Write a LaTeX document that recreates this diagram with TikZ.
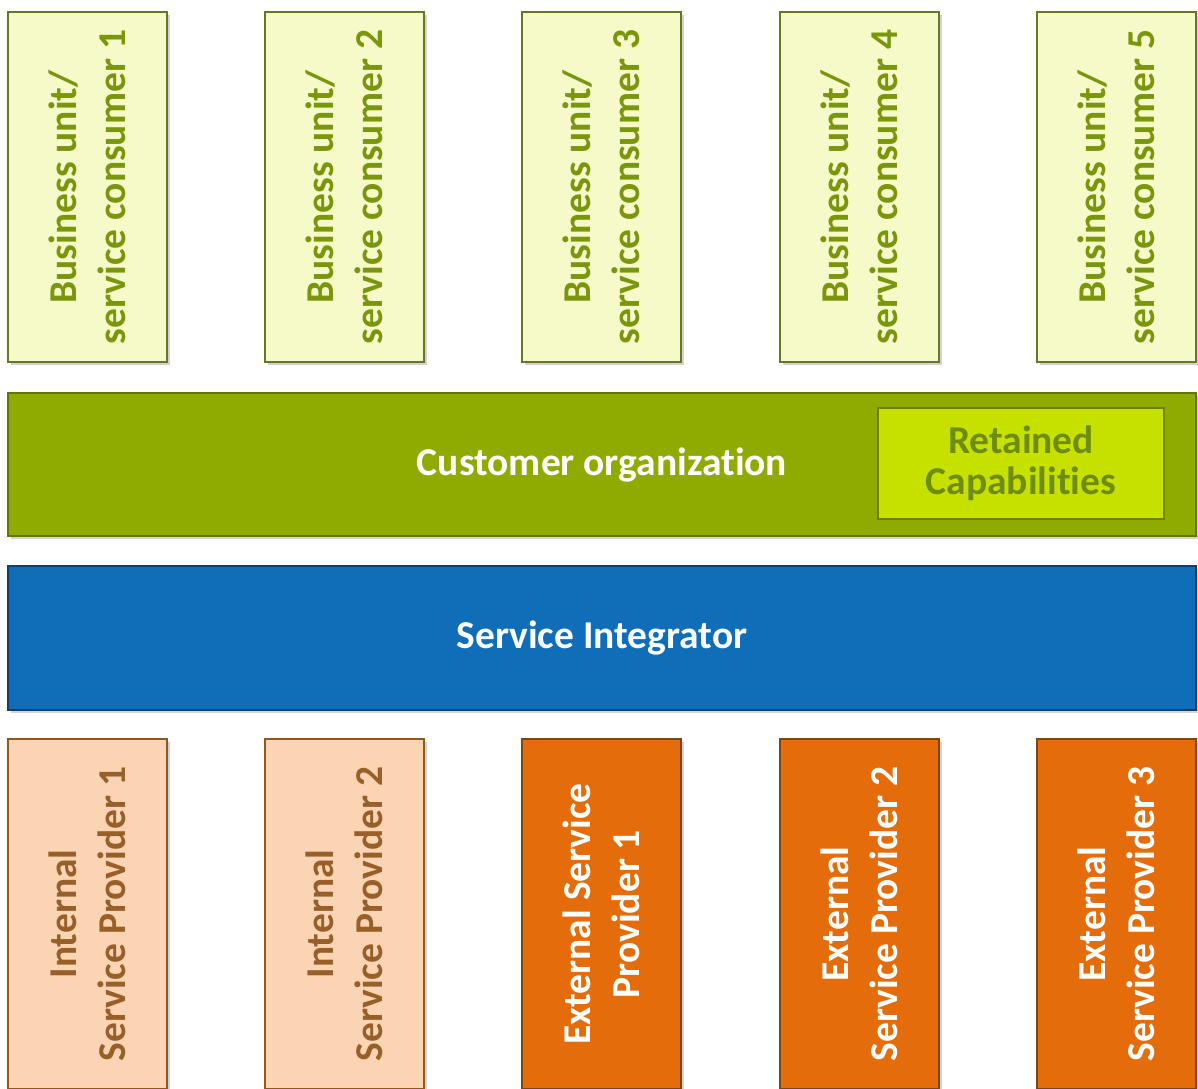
\documentclass[tikz,border=0pt]{standalone}
\usepackage{fontspec}
\setmainfont{Carlito}[Ligatures=NoCommon]
\usetikzlibrary{shadows}
\definecolor{consfill}{RGB}{246,250,200}
\definecolor{consdraw}{RGB}{105,118,35}
\definecolor{constext}{RGB}{122,150,12}
\definecolor{custfill}{RGB}{143,170,0}
\definecolor{custdraw}{RGB}{100,118,0}
\definecolor{retfill}{RGB}{198,225,0}
\definecolor{retdraw}{RGB}{108,130,0}
\definecolor{rettext}{RGB}{110,140,15}
\definecolor{intfill}{RGB}{251,212,180}
\definecolor{intdraw}{RGB}{145,88,30}
\definecolor{inttext}{RGB}{152,96,40}
\definecolor{extfill}{RGB}{228,108,10}
\definecolor{extdraw}{RGB}{125,68,20}
\definecolor{sifill}{RGB}{16,110,184}
\definecolor{sidraw}{RGB}{25,60,100}
\tikzset{
  shade box/.style={rectangle, line width=1.5pt, inner sep=0pt,
    drop shadow={opacity=0.35, shadow xshift=2.5pt, shadow yshift=-2.5pt}},
  colbox/.style={shade box, minimum width=119.25pt, minimum height=262.5pt},
  consbox/.style={colbox, fill=consfill, draw=consdraw},
  intbox/.style={colbox, fill=intfill, draw=intdraw},
  extbox/.style={colbox, fill=extfill, draw=extdraw},
  vlabel/.style={rotate=90, align=center, font=\fontsize{29.6}{36.5}\selectfont\bfseries, inner sep=0pt},
  barbox/.style={shade box, minimum width=891pt},
  barlabel/.style={font=\fontsize{29.6}{36.5}\selectfont\bfseries, text=white, align=center, inner sep=0pt},
}
\begin{document}
\begin{tikzpicture}[x=0.75pt,y=-0.75pt]
\useasboundingbox (0,0) rectangle (1198,1088);
% consumers
\foreach \i/\x in {1/87.5,2/344.5,3/601.5,4/859.5,5/1116.5}{
  \node[consbox] (c\i) at (\x,187) {};
  \node[vlabel, text=constext] (cl\i) at (c\i) {Business unit/\\service consumer \i};
}
% customer organization
\node[barbox, minimum height=107.25pt, fill=custfill, draw=custdraw] (cust) at (602,464.5) {};
\node[barlabel] (custl) at (cust) {Customer organization};
\node[rectangle, line width=1.5pt, fill=retfill, draw=retdraw, minimum width=214.5pt, minimum height=83.25pt] (ret) at (1021,463.5) {};
\node[barlabel, text=rettext, font=\fontsize{29.6}{31}\selectfont\bfseries] (retl) at (ret) {Retained\\Capabilities};
% service integrator
\node[barbox, minimum height=108pt, fill=sifill, draw=sidraw] (si) at (602,638) {};
\node[barlabel] (sil) at (si) {Service Integrator};
% providers
\node[intbox] (p1) at (87.5,914) {};
\node[vlabel, text=inttext] (pl1) at (p1) {Internal\\Service Provider 1};
\node[intbox] (p2) at (344.5,914) {};
\node[vlabel, text=inttext] (pl2) at (p2) {Internal\\Service Provider 2};
\node[extbox] (p3) at (601.5,914) {};
\node[vlabel, text=white] (pl3) at (p3) {External Service\\Provider 1};
\node[extbox] (p4) at (859.5,914) {};
\node[vlabel, text=white] (pl4) at (p4) {External\\Service Provider 2};
\node[extbox] (p5) at (1116.5,914) {};
\node[vlabel, text=white] (pl5) at (p5) {External\\Service Provider 3};
\end{tikzpicture}
\end{document}
